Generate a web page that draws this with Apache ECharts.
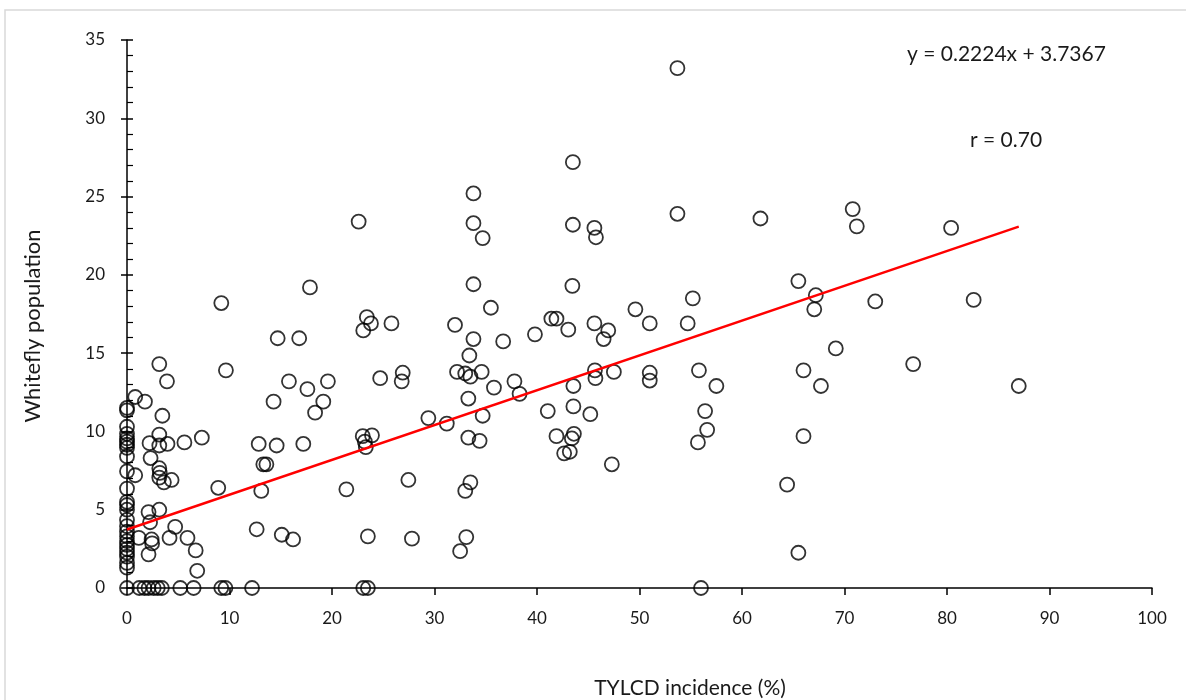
<!DOCTYPE html>
<html>
<head>
<meta charset="utf-8">
<title>Whitefly population vs TYLCD incidence</title>
<script src="https://cdn.jsdelivr.net/npm/echarts@6/dist/echarts.min.js"></script>
<style>
  html, body { margin: 0; padding: 0; background: #fff; }
  #chart { width: 1186px; height: 700px; }
</style>
</head>
<body>
<div id="chart"></div>
<script>
// TYLCD incidence (%) per field observation
const incidence = [
  0, 0, 0, 0, 0, 0, 0, 0, 0, 0, 0, 0, 0, 0, 0, 0, 0, 0, 0, 0, 0, 0, 0, 0, 0, 0,
  0.8, 1.75, 3.15, 3.9, 3.45, 9.65, 9.2,
  3.15, 2.2, 3.15, 3.95, 5.6, 7.3,
  2.3, 3.15, 3.2, 3.15, 3.6, 4.35, 0.8, 8.9,
  2.1, 3.15, 2.25, 4.7, 1.15, 2.4, 2.45, 4.15, 5.9, 6.7, 2.1, 6.85,
  1.2, 1.7, 2.1, 2.6, 3.0, 3.4, 5.2, 6.5, 9.2, 9.6, 12.2,
  12.65, 15.1, 16.2, 12.85, 14.6, 13.3, 13.6, 13.1,
  14.3, 14.7, 16.8, 15.8, 17.6, 19.6, 19.15, 18.35, 17.85, 17.2,
  22.6, 23.4, 23.8, 23.05, 25.8, 24.7, 26.9, 26.8, 21.4, 27.45, 23.5, 27.8,
  23.0, 23.9, 23.2, 23.3, 23.05, 23.5,
  29.4, 31.2, 32.0, 32.2, 33.0, 33.5, 34.6, 33.3, 35.8, 34.7, 33.3, 34.4,
  33.5, 33.0, 33.1, 32.5,
  33.8, 33.8, 34.7, 33.8, 35.5, 33.8, 33.4, 36.7, 37.8, 38.3, 39.8,
  41.4, 41.9, 43.05, 43.5, 43.5, 45.6, 45.75, 43.45, 41.05, 43.55, 43.55, 45.2,
  45.65, 45.7, 47.5, 41.9, 43.6, 43.4, 42.65, 43.2, 47.3, 49.6, 45.6, 46.95,
  46.5, 51.0, 51.0, 51.0,
  53.7, 53.7, 55.2, 54.7, 55.8, 57.5, 56.4, 56.6, 55.7, 56.0,
  61.8, 65.5, 67.2, 67.05, 66.0, 67.7, 66.0, 64.4, 65.5, 69.15,
  70.8, 71.2, 73.0, 76.7, 80.4, 82.6, 87.0
];

// Whitefly population recorded for the same observations
const whitefly = [
  11.5, 11.35, 10.3, 9.85, 9.55, 9.35, 9.15, 8.95, 8.4, 7.45, 6.35, 5.5, 5.3, 5.0,
  4.35, 3.95, 3.6, 3.3, 3.0, 2.75, 2.5, 2.25, 2.0, 1.6, 1.3, 0,
  12.2, 11.9, 14.3, 13.2, 11.0, 13.9, 18.2,
  9.8, 9.25, 9.1, 9.2, 9.3, 9.6,
  8.3, 7.65, 7.35, 7.05, 6.75, 6.9, 7.2, 6.4,
  4.85, 5.0, 4.2, 3.9, 3.2, 3.1, 2.85, 3.2, 3.2, 2.4, 2.15, 1.1,
  0, 0, 0, 0, 0, 0, 0, 0, 0, 0, 0,
  3.75, 3.4, 3.1, 9.2, 9.1, 7.9, 7.9, 6.2,
  11.9, 15.95, 15.95, 13.2, 12.7, 13.2, 11.9, 11.2, 19.2, 9.2,
  23.4, 17.3, 16.9, 16.45, 16.9, 13.4, 13.75, 13.2, 6.3, 6.9, 3.3, 3.15,
  9.7, 9.75, 9.35, 9.0, 0, 0,
  10.85, 10.5, 16.8, 13.8, 13.7, 13.5, 13.8, 12.1, 12.8, 11.0, 9.6, 9.4,
  6.75, 6.2, 3.25, 2.35,
  25.2, 23.3, 22.35, 19.4, 17.9, 15.9, 14.85, 15.75, 13.2, 12.4, 16.2,
  17.2, 17.2, 16.5, 27.2, 23.2, 23.0, 22.4, 19.3, 11.3, 12.9, 11.6, 11.1,
  13.9, 13.4, 13.8, 9.7, 9.85, 9.55, 8.6, 8.7, 7.9, 17.8, 16.9, 16.45,
  15.9, 16.9, 13.75, 13.25,
  33.2, 23.9, 18.5, 16.9, 13.9, 12.9, 11.3, 10.1, 9.3, 0,
  23.6, 19.6, 18.7, 17.8, 13.9, 12.9, 9.7, 6.6, 2.25, 15.3,
  24.2, 23.1, 18.3, 14.3, 23.0, 18.4, 12.9
];

// Axis tick values
const xTicks = [0, 10, 20, 30, 40, 50, 60, 70, 80, 90, 100];
const yTicks = [0, 5, 10, 15, 20, 25, 30, 35];

// Linear fit reported on the chart
const slope = 0.2224;
const intercept = 3.7367;
const rValue = '0.70';

const points = incidence.map((x, i) => [x, whitefly[i]]);
const xFitStart = Math.min(...incidence);
const xFitEnd = Math.max(...incidence);
const fitLine = [
  [xFitStart, slope * xFitStart + intercept],
  [xFitEnd, slope * xFitEnd + intercept]
];

const FONT = 'Lato, "Open Sans", sans-serif';
const TEXT = '#1a1a1a';

const chart = echarts.init(document.getElementById('chart'), null, { renderer: 'canvas' });

const yBase = {
  type: 'value',
  min: yTicks[0],
  max: yTicks[yTicks.length - 1],
  interval: yTicks[1] - yTicks[0],
  position: 'left',
  splitLine: { show: false }
};

chart.setOption({
  animation: false,
  backgroundColor: '#ffffff',
  grid: { left: 127, right: 34, top: 40, bottom: 112, containLabel: false },
  xAxis: {
    type: 'value',
    min: xTicks[0],
    max: xTicks[xTicks.length - 1],
    interval: xTicks[1] - xTicks[0],
    axisLine: { show: true, onZero: false, lineStyle: { color: '#000', width: 1.5 } },
    axisTick: { show: true, inside: false, length: 7, lineStyle: { color: '#000', width: 1.5 } },
    axisLabel: { margin: 22, fontFamily: FONT, fontSize: 17, color: TEXT },
    splitLine: { show: false }
  },
  yAxis: [
    Object.assign({}, yBase, {
      axisLine: { show: true, lineStyle: { color: '#000', width: 1.5 } },
      axisTick: { show: true, inside: false, length: 6, lineStyle: { color: '#000', width: 1.5 } },
      axisLabel: { margin: 22, fontFamily: FONT, fontSize: 17, color: TEXT }
    }),
    Object.assign({}, yBase, {
      axisLine: { show: false },
      axisTick: { show: true, inside: true, length: 6, lineStyle: { color: '#000', width: 1.5 } },
      minorTick: { show: true, splitNumber: 5, length: 6, lineStyle: { color: '#000', width: 1.2 } },
      axisLabel: { show: false }
    })
  ],
  series: [
    {
      type: 'scatter',
      yAxisIndex: 0,
      data: points,
      symbol: 'circle',
      symbolSize: 14,
      itemStyle: { color: 'rgba(0,0,0,0)', borderColor: '#000', borderWidth: 1.8 },
      z: 2
    },
    {
      type: 'line',
      yAxisIndex: 0,
      data: fitLine,
      symbol: 'none',
      lineStyle: { color: '#ff0000', width: 2.4 },
      z: 3
    }
  ],
  graphic: [
    {
      type: 'rect',
      shape: { x: 5, y: 10, width: 1200, height: 720 },
      style: { fill: null, stroke: '#d9d9d9', lineWidth: 1.5 },
      silent: true
    },
    {
      type: 'text',
      left: 907, top: 44,
      style: { text: 'y = ' + slope + 'x + ' + intercept, fontFamily: FONT, fontSize: 21, fill: TEXT }
    },
    {
      type: 'text',
      left: 970, top: 130,
      style: { text: 'r = ' + rValue, fontFamily: FONT, fontSize: 21, fill: TEXT }
    },
    {
      type: 'text',
      x: 33, y: 326,
      rotation: Math.PI / 2,
      style: {
        text: 'Whitefly population', fontFamily: FONT, fontSize: 22, fill: TEXT,
        align: 'center', verticalAlign: 'middle'
      }
    },
    {
      type: 'text',
      x: 690, y: 688,
      style: {
        text: 'TYLCD incidence (%)', fontFamily: FONT, fontSize: 21, fill: TEXT,
        align: 'center', verticalAlign: 'middle'
      }
    }
  ]
});
</script>
</body>
</html>
